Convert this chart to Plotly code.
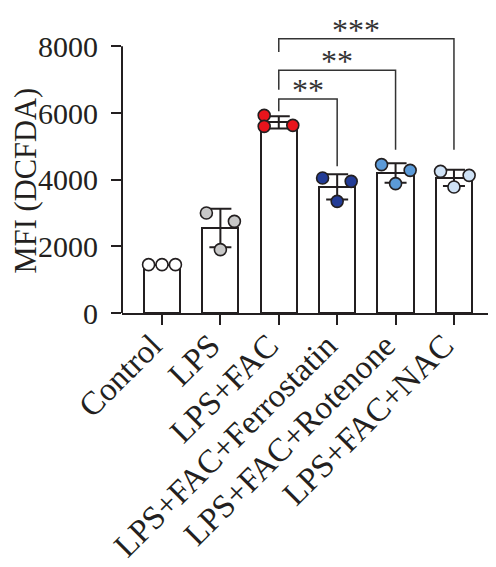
import numpy as np
import plotly.graph_objects as go

categories = ["Control", "LPS", "LPS+FAC", "LPS+FAC+Ferrostatin",
              "LPS+FAC+Rotenone", "LPS+FAC+NAC"]
# individual replicate values
replicates = [
    [1450, 1450, 1450],
    [3000, 2750, 1900],
    [5930, 5600, 5630],
    [4050, 3950, 3350],
    [4450, 4280, 3880],
    [4250, 4130, 3780],
]
# horizontal jitter of each replicate (category units)
jitter = [
    [-0.23, 0.0, 0.23],
    [-0.24, 0.24, 0.0],
    [-0.25, -0.25, 0.24],
    [-0.25, 0.24, 0.0],
    [-0.24, 0.25, 0.0],
    [-0.23, 0.26, 0.0],
]
point_colors = ["#ffffff", "#c8c8c8", "#e8141c", "#233c96", "#5b9ad8", "#cfe2f6"]

y_ticks = [0, 2000, 4000, 6000, 8000]
y_title = "MFI (DCFDA)"

# significance brackets
sig_a = [2, 2, 2]
sig_b = [3, 4, 5]
sig_h = [6420, 7280, 8230]
sig_left_foot = [6050, 6700, 7830]
sig_right_foot = [4400, 4900, 4900]
sig_label = ["**", "**", "***"]
sig_label_x = [2.5, 3.0, 3.33]

FONT = "Liberation Serif"
INK = "#231f20"

x_idx = list(range(len(categories)))
means = [float(np.mean(r)) for r in replicates]
sds = [float(np.std(r, ddof=1)) for r in replicates]

fig = go.Figure()

fig.add_trace(go.Bar(
    x=x_idx, y=means, width=0.62,
    marker=dict(color="white", line=dict(color=INK, width=2)),
    error_y=dict(type="data", array=sds, visible=True, color=INK,
                 thickness=2, width=11),
    showlegend=False, hoverinfo="skip",
))

for i, (vals, offs) in enumerate(zip(replicates, jitter)):
    fig.add_trace(go.Scatter(
        x=[i + o for o in offs], y=vals, mode="markers",
        marker=dict(size=12, color=point_colors[i],
                    line=dict(color=INK, width=1.6)),
        showlegend=False, hoverinfo="skip", cliponaxis=False,
    ))

for a, b, h, lf, rf, lab, lx in zip(sig_a, sig_b, sig_h, sig_left_foot,
                                     sig_right_foot, sig_label, sig_label_x):
    fig.add_trace(go.Scatter(
        x=[a, a, b, b], y=[lf, h, h, rf], mode="lines",
        line=dict(color="#333333", width=1.5),
        showlegend=False, hoverinfo="skip",
    ))
    fig.add_annotation(x=lx, y=h, text=lab, showarrow=False,
                       xref="x", yref="y", yanchor="bottom", yshift=-11,
                       font=dict(family=FONT, size=32, color="#333333"))

# y axis title as a rotated annotation
fig.add_annotation(text=y_title, textangle=-90, showarrow=False,
                   xref="paper", yref="paper", x=-0.2567, y=0.442,
                   xanchor="center", yanchor="middle", borderpad=0,
                   font=dict(family=FONT, size=30.5, color=INK))

# y axis line only spanning the tick range
fig.add_shape(type="line", xref="paper", yref="y", x0=0, x1=0,
              y0=min(y_ticks), y1=max(y_ticks),
              line=dict(color=INK, width=2))

# the page body adds an 8px offset, so the figure is 8px smaller
fig.update_layout(
    width=488, height=559,
    margin=dict(l=114, r=0, t=5, b=254, autoexpand=False),
    plot_bgcolor="white", paper_bgcolor="white",
    font=dict(family=FONT, color=INK, size=30),
    bargap=0,
)
fig.update_xaxes(
    range=[-0.685, 5.72], tickvals=x_idx, ticktext=categories,
    tickangle=-45, ticks="outside", ticklen=10, tickwidth=2, tickcolor=INK,
    showline=True, linecolor=INK, linewidth=2, showgrid=False, zeroline=False,
    tickfont=dict(family=FONT, size=33, color=INK), automargin=False,
    ticklabelshift=-10, ticklabelstandoff=-12,
)
fig.update_yaxes(
    range=[0, 9000], tickvals=y_ticks, ticks="outside", ticklen=10,
    tickwidth=2, tickcolor=INK, showline=False, showgrid=False, zeroline=False,
    tickfont=dict(family=FONT, size=30, color=INK), automargin=False,
    ticklabelstandoff=7,
)

fig.write_html("out.html")
